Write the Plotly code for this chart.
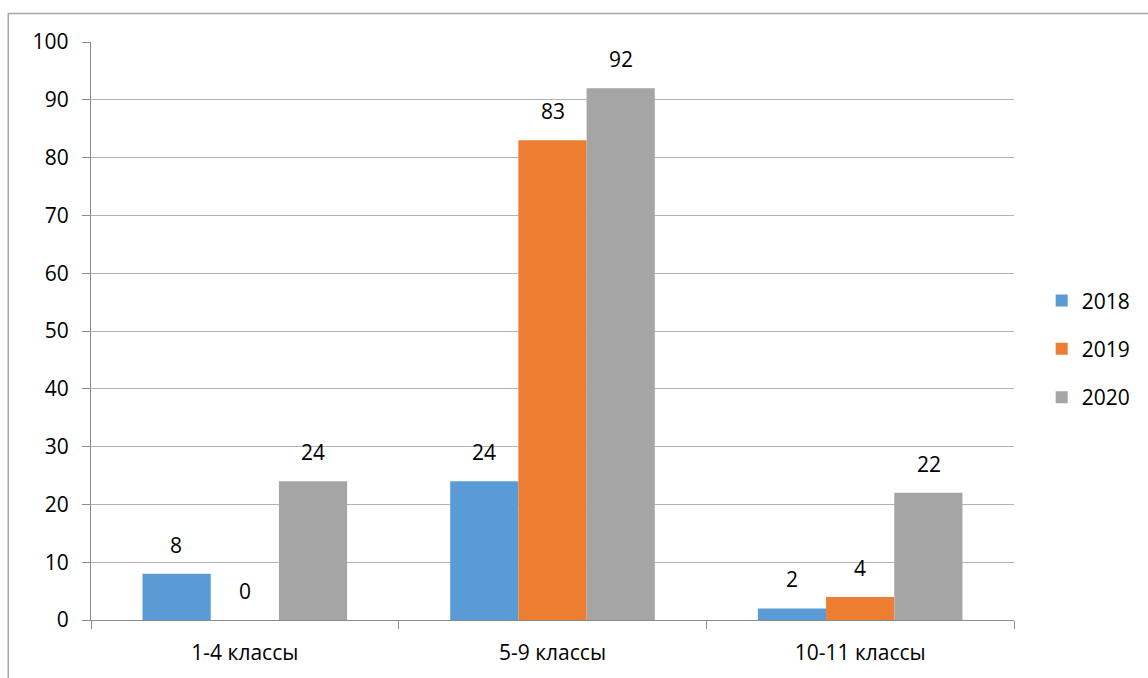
import plotly.graph_objects as go

categories = ["1-4 классы", "5-9 классы", "10-11 классы"]
years = ["2018", "2019", "2020"]
values_2018 = [8, 24, 2]
values_2019 = [0, 83, 4]
values_2020 = [24, 92, 22]
colors = ["#5B9BD5", "#ED7D31", "#A5A5A5"]
y_ticks = [0, 10, 20, 30, 40, 50, 60, 70, 80, 90, 100]

series = [values_2018, values_2019, values_2020]
font_family = "Open Sans, Liberation Sans, sans-serif"

fig = go.Figure()
for i, (yr, vals, col) in enumerate(zip(years, series, colors)):
    fig.add_trace(go.Bar(
        x=categories, y=vals, name=yr, marker_color=col,
        marker_line_width=0, legendgroup=yr,
    ))

# data labels
plot_w = 1017 - 91
group_w = plot_w / 3
bargap = 0.335
bar_w = group_w * (1 - bargap) / 3
for i, vals in enumerate(series):
    for cat, v in zip(categories, vals):
        fig.add_annotation(
            x=cat, y=v, xref="x", yref="y", text=str(v), showarrow=False,
            xshift=(i - 1) * bar_w, yanchor="bottom", yshift=13,
            font=dict(size=21, color="#000000", family=font_family),
        )

fig.add_shape(type="rect", xref="paper", yref="paper",
              x0=-83 / plot_w, x1=1139.5 / plot_w, y0=-0.2, y1=(620 - 13.5) / 578,
              line=dict(color="#A6A6A6", width=1.5), fillcolor="rgba(0,0,0,0)")

fig.update_layout(
    width=1148, height=678,
    margin=dict(l=91, r=131, t=42, b=58),
    paper_bgcolor="white", plot_bgcolor="white",
    barmode="group", bargap=bargap, bargroupgap=0,
    font=dict(family=font_family, size=21, color="#000000"),
    showlegend=True,
    legend=dict(x=1.03, y=0.469, xanchor="left", yanchor="middle",
                font=dict(size=21), tracegroupgap=18, itemwidth=30),
    xaxis=dict(showgrid=False, showline=True, linecolor="#8C8C8C", linewidth=1.3,
               ticks="outside", tickson="boundaries", ticklen=8, tickcolor="#8C8C8C",
               tickwidth=1.3, ticklabelstandoff=14),
    yaxis=dict(range=[0, 100], tickvals=y_ticks, showgrid=True, gridcolor="#B3B3B3",
               gridwidth=1.2, showline=True, linecolor="#8C8C8C", linewidth=1.3,
               ticks="outside", ticklen=8, tickcolor="#8C8C8C", tickwidth=1.3,
               ticklabelstandoff=9, zeroline=False),
)

fig.write_html("out.html", config={"displayModeBar": False},
               post_script="document.body.style.margin='0';")
